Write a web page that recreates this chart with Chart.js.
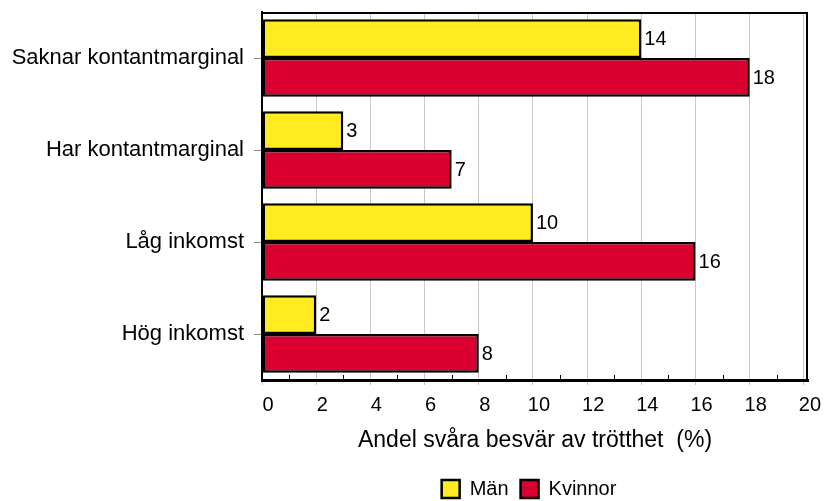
<!DOCTYPE html>
<html><head><meta charset="utf-8">
<script src="https://cdn.jsdelivr.net/npm/chart.js@4/dist/chart.umd.min.js"></script>
<style>html,body{margin:0;padding:0;background:#fff}</style>
</head><body>
<canvas id="c" width="824" height="501"></canvas>
<script>
const categories = ['Saknar kontantmarginal', 'Har kontantmarginal', 'Låg inkomst', 'Hög inkomst'];
const seriesNames = ['Män', 'Kvinnor'];
const menValues = [14, 3, 10, 2];
const womenValues = [18, 7, 16, 8];
const xMinorTicks = [1, 3, 5, 7, 9, 11, 13, 15, 17, 19];
const axisTitle = 'Andel svåra besvär av trötthet  (%)';

const FONT = '"Liberation Sans", Arial, sans-serif';
Chart.defaults.font.family = FONT;
Chart.defaults.color = '#000';

const extras = {
  id: 'extras',
  afterLayout(chart) {
    if (chart.legend) { chart.legend.left -= 6; chart.legend.right -= 6; }
  },
  afterDatasetsDraw(chart) {
    const ctx = chart.ctx, a = chart.chartArea, xs = chart.scales.x;
    ctx.save();
    ctx.strokeStyle = '#000';
    ctx.lineWidth = 2;
    ctx.beginPath();
    ctx.moveTo(a.left, a.top + 1);
    ctx.lineTo(a.right - 1, a.top + 1);
    ctx.lineTo(a.right - 1, a.bottom);
    ctx.stroke();
    ctx.lineWidth = 1;
    ctx.beginPath();
    xMinorTicks.forEach(v => {
      const x = Math.round(xs.getPixelForValue(v)) + 0.5;
      ctx.moveTo(x, a.bottom - 5);
      ctx.lineTo(x, a.bottom);
    });
    ctx.stroke();
    ctx.fillStyle = '#000';
    ctx.font = '20px ' + FONT;
    ctx.textAlign = 'left';
    ctx.textBaseline = 'middle';
    chart.data.datasets.forEach((ds, i) => {
      chart.getDatasetMeta(i).data.forEach((bar, j) => {
        ctx.fillText(String(ds.data[j]), bar.x + 3, bar.y + 1);
      });
    });
    ctx.restore();
  }
};

function noPad(s) { s.paddingTop = 0; s.paddingBottom = 0; s.paddingLeft = 0; s.paddingRight = 0; }

new Chart(document.getElementById('c'), {
  type: 'bar',
  data: {
    labels: categories,
    datasets: [
      { label: seriesNames[0], data: menValues, backgroundColor: '#FFEB1F', borderColor: '#000', borderWidth: 2.5, borderSkipped: false, barPercentage: 1, categoryPercentage: 0.84 },
      { label: seriesNames[1], data: womenValues, backgroundColor: '#DA0030', borderColor: '#000', borderWidth: 2.5, borderSkipped: false, barPercentage: 1, categoryPercentage: 0.84 }
    ]
  },
  options: {
    indexAxis: 'y',
    responsive: false,
    animation: false,
    devicePixelRatio: 1,
    layout: { padding: { top: 12, right: 16, left: 0, bottom: -8 } },
    plugins: {
      legend: {
        position: 'bottom',
        fullSize: false,
        labels: { font: { size: 20 }, color: '#000', boxWidth: 18, boxHeight: 18, padding: 12 }
      },
      tooltip: { enabled: false }
    },
    scales: {
      x: {
        type: 'linear', min: 0, max: 20.15, bounds: 'data',
        ticks: { stepSize: 2, includeBounds: false, labelOffset: 6, font: { size: 20 }, color: '#000', padding: 8 },
        grid: { color: '#c8c8c8', lineWidth: 1, tickLength: 5, tickColor: '#c8c8c8' },
        border: { color: '#000', width: 3 },
        title: { display: true, text: axisTitle, font: { size: 23 }, color: '#000', padding: { top: 0, bottom: 13 } },
        afterFit(s) { s.height = 87; noPad(s); }
      },
      y: {
        type: 'category',
        ticks: { font: { size: 22 }, color: '#000', padding: 10 },
        grid: { drawOnChartArea: false, offset: false, tickLength: 8, tickColor: '#888' },
        border: { color: '#000', width: 2 },
        afterFit(s) { s.width = 262; noPad(s); }
      }
    }
  },
  plugins: [extras]
});
</script>
</body></html>
